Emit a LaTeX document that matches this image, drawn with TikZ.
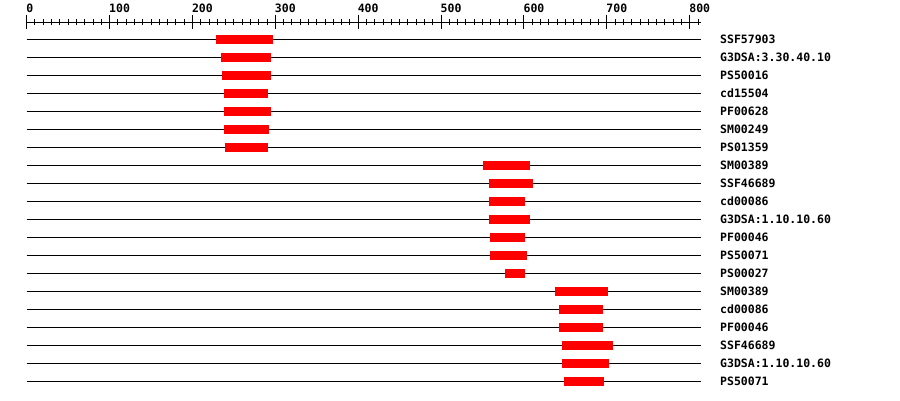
\documentclass[tikz,border=0pt]{standalone}
\usepackage{fontspec}
\setmonofont{DejaVu Sans Mono}
\usetikzlibrary{positioning}

\begin{document}
\begin{tikzpicture}[x=1pt,y=-1pt]
\tikzset{
  seqline/.style={line width=1pt,black},
  domainbar/.style={fill=red,draw=none},
  axistick/.style={line width=1pt,black},
  ticklabel/.style={anchor=base west,inner sep=0pt,font=\ttfamily\bfseries\fontsize{11.5}{12}\selectfont},
  dblabel/.style={anchor=base west,inner sep=0pt,font=\ttfamily\bfseries\fontsize{11.5}{12}\selectfont}
}
\useasboundingbox (0,0) rectangle (900,400);
\begin{scope}[shift={(26.7,0)},x=0.8288pt]
\draw[axistick] (0,22) -- (814,22);
\foreach \t in {0,10,...,810} {
  \draw[axistick] (\t,19) -- (\t,25);
}
\foreach \t in {0,100,...,800} {
  \draw[axistick] (\t,14.5) -- (\t,29);
  \node[ticklabel] (tick\t) at ([xshift=-0.6pt]\t,12.2) {\t};
}
\foreach \name/\a/\b [count=\i from 0] in {
  SSF57903/228/297, G3DSA:3.30.40.10/234/295, PS50016/236/295,
  cd15504/238/291, PF00628/238/295, SM00249/238/292, PS01359/239/291,
  SM00389/550/607, SSF46689/558/611, cd00086/558/601,
  G3DSA:1.10.10.60/558/607, PF00046/559/601, PS50071/559/604,
  PS00027/577/601, SM00389/637/701, cd00086/642/695, PF00046/642/695,
  SSF46689/646/707, G3DSA:1.10.10.60/646/703, PS50071/648/697} {
  \pgfmathsetmacro{\ry}{39.3+18*\i}
  \draw[seqline] (0,\ry) -- (814,\ry);
  \fill[domainbar] (\a,\ry-4.5) rectangle (\b,\ry+4.5);
  \node[dblabel] (lbl\i) at (836.5,\ry+4.2) {\name};
}
\end{scope}
\end{tikzpicture}
\end{document}
